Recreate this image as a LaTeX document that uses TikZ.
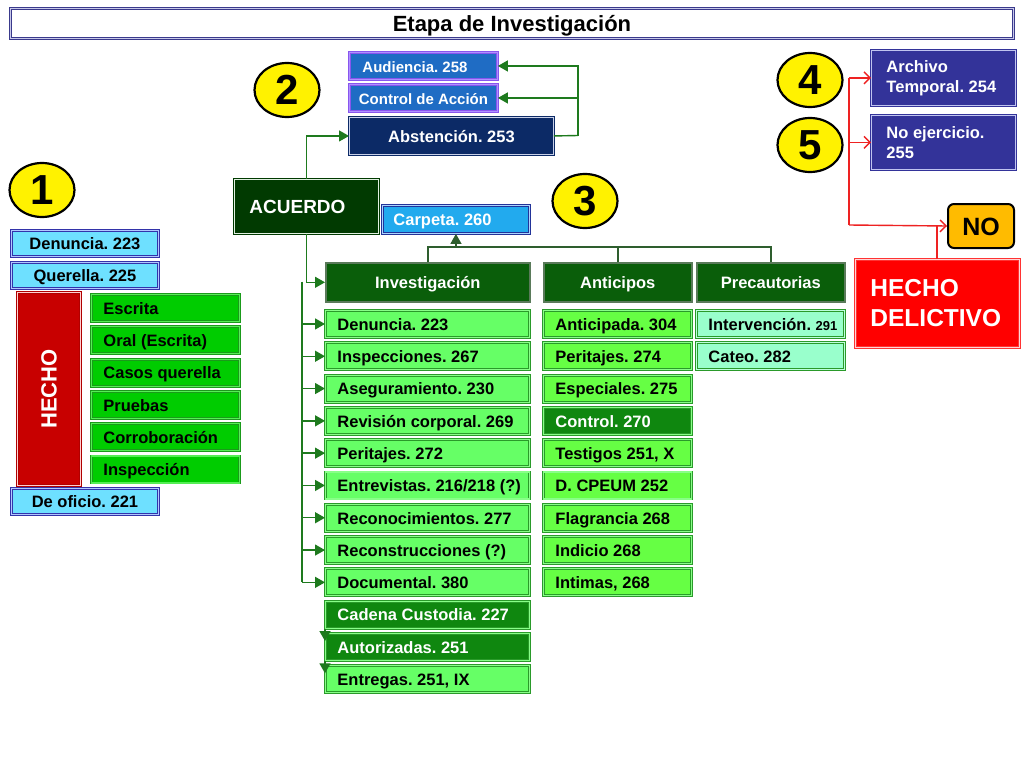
\documentclass[tikz,border=0pt]{standalone}
\usepackage{fontspec}
\setmainfont{Liberation Sans}
\usetikzlibrary{arrows.meta,shapes.geometric}
\frenchspacing
\definecolor{cg}{HTML}{1E7A1E}
\definecolor{cgd}{HTML}{2E5E2E}
\definecolor{cr}{HTML}{EE2222}
\definecolor{lgreen}{HTML}{66FF66}
\definecolor{agreen}{HTML}{66FF44}
\definecolor{dgreen}{HTML}{0F870F}
\definecolor{hgreen}{HTML}{0A5E0A}
\definecolor{bgreen}{HTML}{00CC00}
\definecolor{aqua}{HTML}{99FFCC}
\definecolor{cyanb}{HTML}{6EE0FF}
\definecolor{rowedge}{HTML}{2A9A2A}
\definecolor{rowgap}{HTML}{88FF88}
\definecolor{aquagap}{HTML}{BBFFDD}
\definecolor{hdedge}{HTML}{5A7A5A}
\definecolor{cyedge}{HTML}{3333AA}
\definecolor{cygap}{HTML}{B0C8FF}
\definecolor{lgedge}{HTML}{1A9A1A}
\definecolor{lggap}{HTML}{55EE55}
\definecolor{purfill}{HTML}{1F6CC4}
\definecolor{puredge}{HTML}{8855EE}
\definecolor{purgap}{HTML}{B090FF}
\definecolor{navyfill}{HTML}{333399}
\definecolor{navygap}{HTML}{C0C4F0}
\definecolor{titedge}{HTML}{3A3A8C}
\definecolor{titgap}{HTML}{C8C8E8}
\definecolor{hechofill}{HTML}{C80000}
\definecolor{hechoedge}{HTML}{B00000}
\definecolor{hechogap}{HTML}{FFD0D0}
\definecolor{absfill}{HTML}{0C2A66}
\definecolor{absgap}{HTML}{C8D0E8}
\definecolor{acufill}{HTML}{013A01}
\definecolor{acugap}{HTML}{E0F0E0}
\definecolor{carpfill}{HTML}{22AAEE}
\definecolor{carpedge}{HTML}{223399}
\definecolor{carpgap}{HTML}{AAD4FF}
\definecolor{nofill}{HTML}{FFBB00}
\definecolor{hdfill}{HTML}{FF0000}
\definecolor{hdedgec}{HTML}{FF3333}
\definecolor{hdgap}{HTML}{FFD6D6}
\newcommand\lb[1]{\makebox[180pt][l]{#1}}
\newcommand\lc[1]{\makebox[124pt][l]{#1}}
\tikzset{
  box/.style={anchor=north west, inner sep=0pt, font=\bfseries\fontsize{16.5}{19}\selectfont, text height=12.5pt, text depth=0pt},
  dbl/.style 2 args={draw=#1, double=#2, double distance=1.1pt, line width=0.9pt},
  invrow/.style={box, fill=lgreen, dbl={rowedge}{rowgap}, minimum width=204pt, minimum height=27pt},
  invdark/.style={invrow, fill=dgreen, text=white},
  antrow/.style={box, fill=agreen, dbl={rowedge}{rowgap}, minimum width=148pt, minimum height=27pt},
  antdark/.style={antrow, fill=dgreen, text=white},
  precrow/.style={antrow, fill=aqua, dbl={rowedge}{aquagap}},
  header/.style={box, fill=hgreen, draw=hdedge, line width=1.6pt, text=white, minimum height=39pt},
  cyanbox/.style={box, fill=cyanb, dbl={cyedge}{cygap}, minimum width=147pt, minimum height=26pt},
  lgbox/.style={box, fill=bgreen, dbl={lgedge}{lggap}, minimum width=148pt, minimum height=27pt},
  purbox/.style={box, fill=purfill, dbl={puredge}{purgap}, text=white, minimum width=148pt, minimum height=27pt, font=\bfseries\fontsize{15}{18}\selectfont},
  navybox/.style={anchor=north west, inner sep=0pt, fill=navyfill, dbl={navyfill}{navygap}, text=white, minimum width=144pt, align=left, font=\bfseries\fontsize{16.5}{20}\selectfont},
  circ/.style={ellipse, fill=yellow, draw=black, line width=2.2pt, inner sep=0pt, minimum width=65pt, minimum height=54pt, font=\bfseries\fontsize{42}{44}\selectfont},
  garr/.style={draw=cg, line width=1.4pt, -{Triangle[length=10pt,width=11pt]}},
  gline/.style={draw=cg, line width=1.4pt},
  darr/.style={draw=cgd, line width=1.4pt, -{Triangle[length=10pt,width=11pt]}},
  dline/.style={draw=cgd, line width=1.4pt},
  rarr/.style={draw=cr, line width=1.4pt, -{Straight Barb[length=6pt,width=12pt]}},
  rline/.style={draw=cr, line width=1.4pt}
}
\begin{document}
\begin{tikzpicture}[x=1pt,y=-1pt]
\fill[white] (0,0) rectangle (1024,768);
\useasboundingbox (0,0) rectangle (1024,768);

% title
\node[box, fill=white, dbl={titedge}{titgap}, minimum width=1003pt, minimum height=30pt, font=\bfseries\fontsize{22}{24}\selectfont, text height=16pt] (title) at (10,8) {Etapa de Investigación};

% circles
\node[circ] (c1) at (42,190) {1};
\node[circ] (c2) at (287,90) {2};
\node[circ] (c3) at (585,201) {3};
\node[circ] (c4) at (810,80) {4};
\node[circ] (c5) at (810,145) {5};

% left column
\node[cyanbox] (lden) at (11,230) {Denuncia. 223};
\node[cyanbox] (lque) at (11,262) {Querella. 225};
\node[box, fill=hechofill, dbl={hechoedge}{hechogap}, minimum width=63pt, minimum height=193pt] (hecho) at (17,292) {};
\node[rotate=90, text=white, font=\bfseries\fontsize{22}{24}\selectfont, inner sep=0pt] (hechot) at (hecho.center) {HECHO};
\node[lgbox] (g1) at (91,294) {\lc{Escrita}};
\node[lgbox] (g2) at (91,326.3) {\lc{Oral (Escrita)}};
\node[lgbox] (g3) at (91,358.6) {\lc{Casos querella}};
\node[lgbox] (g4) at (91,390.9) {\lc{Pruebas}};
\node[lgbox] (g5) at (91,423.2) {\lc{Corroboración}};
\node[lgbox] (g6) at (91,455.5) {\lc{Inspección}};
\node[cyanbox] (lofi) at (11,488) {De oficio. 221};

% top middle
\node[purbox] (aud) at (349,52) {\makebox[122pt][l]{Audiencia. 258}};
\node[purbox] (ctrl) at (349,84) {Control de Acción};
\node[box, fill=absfill, dbl={absfill}{absgap}, text=white, minimum width=204pt, minimum height=37pt] (abst) at (349,117) {Abstención. 253};
\node[box, fill=acufill, dbl={acufill}{acugap}, text=white, minimum width=144pt, minimum height=54pt, font=\bfseries\fontsize{19}{21}\selectfont, text height=14pt] (acu) at (234,179) {\makebox[114pt][l]{ACUERDO}};
\node[box, fill=carpfill, dbl={carpedge}{carpgap}, text=white, minimum width=147pt, minimum height=28pt] (carp) at (382,205) {\makebox[125pt][l]{Carpeta. 260}};

% headers
\node[header, minimum width=204pt] (inv) at (325,262) {Investigación};
\node[header, minimum width=148pt] (ant) at (543,262) {Anticipos};
\node[header, minimum width=148pt] (prec) at (696,262) {Precautorias};

% investigacion rows
\node[invrow] (i0) at (325,310) {\lb{Denuncia. 223}};
\node[invrow] (i1) at (325,342.3) {\lb{Inspecciones. 267}};
\node[invrow] (i2) at (325,374.6) {\lb{Aseguramiento. 230}};
\node[invrow] (i3) at (325,406.9) {\lb{Revisión corporal. 269}};
\node[invrow] (i4) at (325,439.2) {\lb{Peritajes. 272}};
\node[invrow] (i5) at (325,471.5) {\lb{Entrevistas. 216/218 (?)}};
\node[invrow] (i6) at (325,503.8) {\lb{Reconocimientos. 277}};
\node[invrow] (i7) at (325,536.1) {\lb{Reconstrucciones (?)}};
\node[invrow] (i8) at (325,568.4) {\lb{Documental. 380}};
\node[invdark] (i9) at (325,600.7) {\lb{Cadena Custodia. 227}};
\node[invdark] (i10) at (325,633) {\lb{Autorizadas. 251}};
\node[invrow] (i11) at (325,665.3) {\lb{Entregas. 251, IX}};

% anticipos rows
\node[antrow] (a0) at (543,310) {\lc{Anticipada. 304}};
\node[antrow] (a1) at (543,342.3) {\lc{Peritajes. 274}};
\node[antrow] (a2) at (543,374.6) {\lc{Especiales. 275}};
\node[antdark] (a3) at (543,406.9) {\lc{Control. 270}};
\node[antrow] (a4) at (543,439.2) {\lc{Testigos 251, X}};
\node[antrow] (a5) at (543,471.5) {\lc{D. CPEUM 252}};
\node[antrow] (a6) at (543,503.8) {\lc{Flagrancia 268}};
\node[antrow] (a7) at (543,536.1) {\lc{Indicio 268}};
\node[antrow] (a8) at (543,568.4) {\lc{Intimas, 268}};

% precautorias rows
\node[precrow] (p0) at (696,310) {\lc{Intervención. {\fontsize{13}{15}\selectfont 291}}};
\node[precrow] (p1) at (696,342.3) {\lc{Cateo. 282}};

% right side
\node[navybox, minimum height=55pt] (arch) at (871,50) {\makebox[114pt][l]{Archivo}\\\makebox[114pt][l]{Temporal. 254}};
\node[navybox, minimum height=54pt] (noej) at (871,115) {\makebox[114pt][l]{No ejercicio.}\\\makebox[114pt][l]{255}};
\node[box, fill=nofill, draw=black, line width=2pt, rounded corners=6pt, minimum width=66pt, minimum height=44pt, font=\bfseries\fontsize{25}{27}\selectfont, text height=18pt] (no) at (947,203) {NO};
\node[anchor=north west, inner sep=0pt, fill=hdfill, dbl={hdedgec}{hdgap}, text=white, minimum width=164pt, minimum height=88pt, align=left, font=\bfseries\fontsize{24.5}{30}\selectfont] (hd) at (855,259) {\makebox[134pt][l]{HECHO}\\\makebox[134pt][l]{DELICTIVO}};

% green connectors (top)
\coordinate (r1) at (578,135.5);
\draw[gline] (abst.east) -- (r1);
\draw[garr] (r1) |- (aud.east);
\draw[garr] (r1) |- (ctrl.east);
\draw[garr] (acu.north) |- (abst.west);
\draw[garr] (acu.south) |- (inv.west);

% vertical distribution line
\coordinate (vt) at (302,281.5);
\draw[gline] (vt) -- (vt |- i8.west);
\foreach \n in {i0,i1,i2,i3,i4,i5,i6,i7,i8}{
  \draw[garr] (vt |- \n.west) -- (\n.west);
}
\draw[garr] (i9.south west) -- ([yshift=-8pt]i10.north west);
\draw[garr] (i10.south west) -- ([yshift=-8pt]i11.north west);

% carpeta connectors
\coordinate (hy) at (0,247);
\draw[dline] (inv.north) |- (prec.north |- hy) -- (prec.north);
\draw[dline] (ant.north) -- (ant.north |- hy);
\draw[darr] (carp.south |- hy) -- (carp.south);

% red connectors
\coordinate (rj) at (849,225);
\coordinate (rh) at (937,225);
\draw[rline] (rh |- hd.north) -- (rh);
\draw[rline] (rj) -- (rj |- arch.west);
\draw[rarr] (rj) -- (no.west);
\draw[rarr] (rj |- arch.west) -- (arch.west);
\draw[rarr] (rj |- noej.west) -- (noej.west);
\end{tikzpicture}
\end{document}
